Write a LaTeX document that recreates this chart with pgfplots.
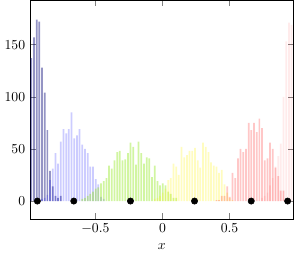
\documentclass[border=0pt]{standalone}
\usepackage{pgfplots}
\pgfplotsset{compat=1.18}
\definecolor{cdark}{RGB}{0,0,115}
\definecolor{cgreen}{RGB}{140,230,20}
\begin{document}
\begin{tikzpicture}
\begin{axis}[
  height=205pt,
  xmin=-0.988, xmax=0.978,
  ymin=-17.5, ymax=192.5,
  xtick={-0.5,0,0.5},
  ytick={0,50,100,150},
  xlabel={$x$},
  hbar/.style={ybar, bar width=0.013, bar shift=0pt, draw=none},
]
\addplot[hbar, fill=cdark, fill opacity=0.42] coordinates {
(-0.978,137) (-0.958,157) (-0.938,174) (-0.918,172) (-0.898,128) (-0.878,104)
(-0.858,68) (-0.838,29) (-0.818,14) (-0.798,5) (-0.778,3) (-0.758,5)};
\addplot[hbar, fill=blue, fill opacity=0.2] coordinates {
(-0.898,2) (-0.878,3) (-0.858,6) (-0.838,20) (-0.818,31) (-0.798,46) (-0.778,36)
(-0.758,57) (-0.738,69) (-0.718,65) (-0.698,69) (-0.678,85) (-0.658,60) (-0.638,63)
(-0.618,69) (-0.598,54) (-0.578,50) (-0.558,46) (-0.538,33) (-0.518,33) (-0.498,21)
(-0.478,16) (-0.458,4) (-0.438,2)};
\addplot[hbar, fill=cgreen, fill opacity=0.4] coordinates {
(-0.598,2) (-0.578,3) (-0.558,5) (-0.538,7) (-0.518,9) (-0.498,12) (-0.478,13)
(-0.458,17) (-0.438,19) (-0.418,22) (-0.398,34) (-0.378,31) (-0.358,39) (-0.338,47)
(-0.318,48) (-0.298,39) (-0.278,40) (-0.258,46) (-0.238,56) (-0.218,52) (-0.198,35)
(-0.178,57) (-0.158,46) (-0.138,36) (-0.118,42) (-0.098,41) (-0.078,23) (-0.058,34)
(-0.038,19) (-0.018,15) (0.002,17) (0.022,15) (0.042,9) (0.062,7) (0.082,3)
(0.102,3)};
\addplot[hbar, fill=yellow, fill opacity=0.25] coordinates {
(-0.058,2) (-0.038,3) (-0.018,5) (0.002,8) (0.022,12) (0.042,20) (0.062,22)
(0.082,36) (0.102,33) (0.122,25) (0.142,52) (0.162,42) (0.182,44) (0.202,48)
(0.222,48) (0.242,51) (0.262,39) (0.282,32) (0.302,56) (0.322,52) (0.342,47)
(0.362,37) (0.382,34) (0.402,33) (0.422,27) (0.442,30) (0.462,16) (0.482,8)
(0.502,3) (0.522,1)};
\addplot[hbar, fill=red, fill opacity=0.22] coordinates {
(0.402,1) (0.422,1) (0.442,5) (0.462,5) (0.482,14) (0.502,4) (0.522,27) (0.542,22)
(0.562,41) (0.582,50) (0.602,47) (0.622,50) (0.642,75) (0.662,68) (0.682,75)
(0.702,66) (0.722,79) (0.742,70) (0.762,39) (0.782,41) (0.802,56) (0.822,50)
(0.842,32) (0.862,24) (0.882,10) (0.902,10) (0.922,2)};
\addplot[hbar, fill=red, fill opacity=0.08] coordinates {
(0.742,3) (0.762,5) (0.782,8) (0.802,15) (0.822,22) (0.842,33) (0.862,43)
(0.882,55) (0.902,100) (0.922,153) (0.942,171) (0.962,169)};
\addplot[only marks, mark=*, mark size=2.3pt, black] coordinates {
(-0.9325,0) (-0.6612,0) (-0.2386,0) (0.2386,0) (0.6612,0) (0.9325,0)};
\end{axis}
\end{tikzpicture}
\end{document}
